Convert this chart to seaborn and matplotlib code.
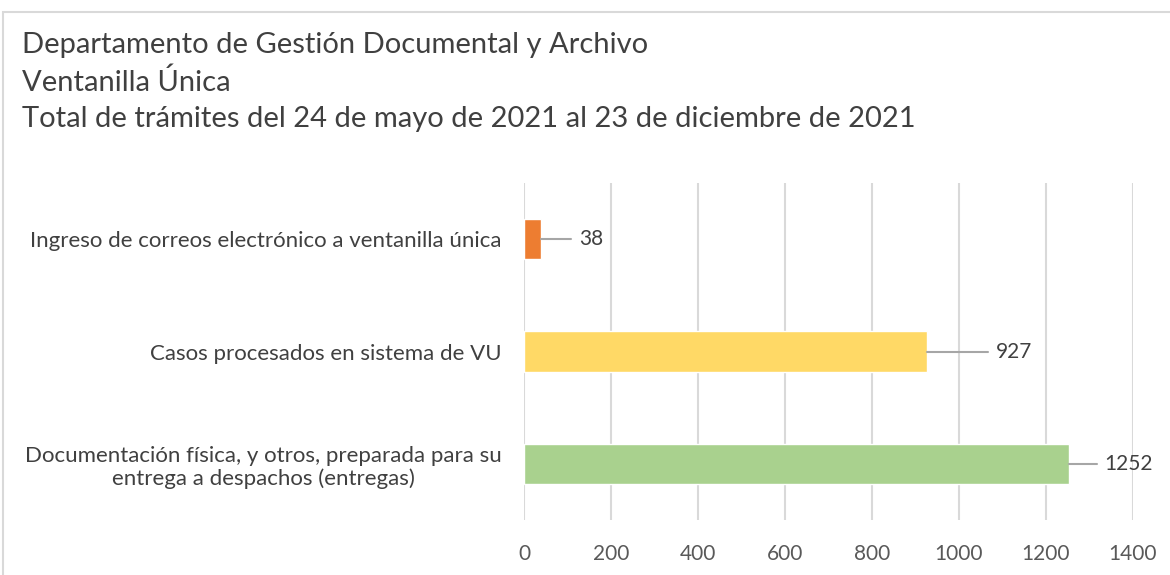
import matplotlib
matplotlib.use("Agg")
import matplotlib.pyplot as plt
import numpy as np
import pandas as pd
import seaborn as sns
from matplotlib.patches import Rectangle

title_lines = [
    "Departamento de Gestión Documental y Archivo",
    "Ventanilla Única",
    "Total de trámites del 24 de mayo de 2021 al 23 de diciembre de 2021",
]
categories = [
    "Ingreso de correos electrónico a ventanilla única",
    "Casos procesados en sistema de VU",
    "Documentación física, y otros, preparada para su\nentrega a despachos (entregas)",
]
values = [38, 927, 1252]
bar_colors = ["#ED7D31", "#FFD966", "#A9D18E"]
x_ticks = [0, 200, 400, 600, 800, 1000, 1200, 1400]

sns.set_theme(style="white")
plt.rcParams["font.family"] = ["Lato", "DejaVu Sans"]

df = pd.DataFrame({"category": categories, "value": values})

fig = plt.figure(figsize=(11.7, 5.75), dpi=100)
ax = fig.add_axes([524 / 1170, 1 - 520 / 575, (1133 - 524) / 1170, (520 - 183) / 575])

sns.barplot(
    data=df, x="value", y="category", hue="category", palette=bar_colors,
    width=0.36, saturation=1, legend=False, ax=ax,
)

ax.set_xlim(0, 1400)
ax.set_ylim(2.5, -0.5)
ax.set_xticks(x_ticks)
ax.set_xticklabels([str(t) for t in x_ticks], fontsize=15, color="#595959")
ax.tick_params(axis="x", length=0, pad=17)
ax.tick_params(axis="y", length=0, pad=16)
for lbl in ax.get_yticklabels():
    lbl.set_fontsize(16)
    lbl.set_color("#404040")
    lbl.set_multialignment("center")
    lbl.set_linespacing(1.2)
ax.grid(axis="x", color="#D9D9D9", linewidth=1.5)
ax.set_axisbelow(True)
for s in ax.spines.values():
    s.set_visible(False)
ax.set_xlabel("")
ax.set_ylabel("")

# data labels with leader lines
leader = [70, 140, 65]
for i, v in enumerate(values):
    ax.plot([v, v + leader[i]], [i, i], color="#A6A6A6", linewidth=1.5, zorder=1)
    ax.text(v + leader[i] + 18, i, str(v), va="center", ha="left",
            fontsize=15, color="#404040")

# titles
for k, line in enumerate(title_lines):
    fig.text(22 / 1170, 1 - (45 + k * 37) / 575, line, fontsize=21,
             color="#404040", va="center", ha="left")

# chart frame
fig.patches.append(Rectangle((3 / 1170, -0.1), 1.2, 1 - 12 / 575 + 0.1,
                             transform=fig.transFigure, fill=False,
                             edgecolor="#D9D9D9", linewidth=1.5))

fig.savefig("out.png", dpi=100)
